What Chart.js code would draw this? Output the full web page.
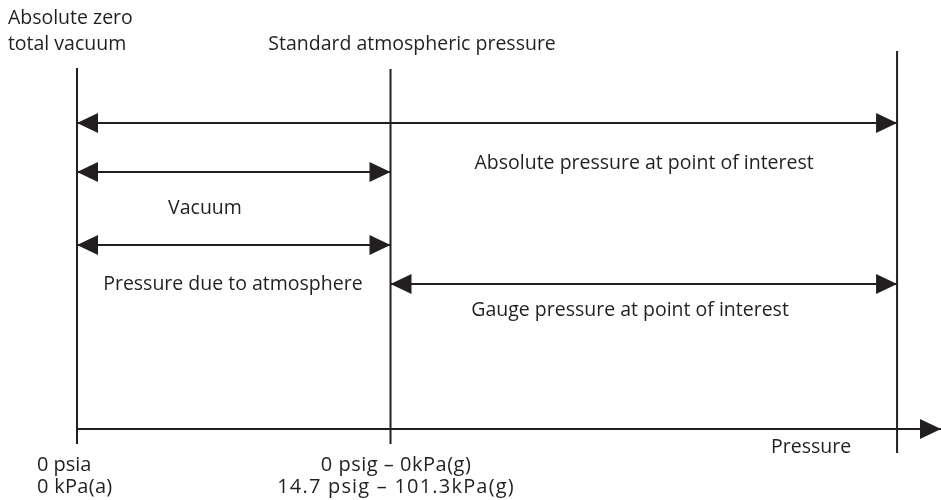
<!DOCTYPE html>
<html>
<head>
<meta charset="utf-8">
<script src="https://cdn.jsdelivr.net/npm/chart.js@4"></script>
<style>
  html, body { margin: 0; padding: 0; background: #ffffff; }
  #wrap { width: 941px; height: 500px; position: relative; }
</style>
</head>
<body>
<div id="wrap"><canvas id="c" width="941" height="500"></canvas></div>
<script>
// ---- data (pressure in psia) ----
const markerNames = ['Absolute zero', 'Standard atmospheric pressure', 'Point of interest'];
const markerPsia = [0, 14.7, 38.45];

const spanLabels = ['Absolute pressure at point of interest', 'Vacuum', 'Pressure due to atmosphere', 'Gauge pressure at point of interest'];
const spanFrom = [0, 0, 0, 14.7];
const spanTo = [38.45, 14.7, 14.7, 38.45];

const axisLabel = 'Pressure';
const axisRange = [-3.61, 40.51];

const tickTexts = [
  ['0 psia', '0 kPa(a)'],
  ['0 psig – 0kPa(g)', '14.7 psig – 101.3kPa(g)']
];
const topTexts = [['Absolute zero', 'total vacuum'], ['Standard atmospheric pressure']];

// ---- layout (diagram rows, 0 = top) ----
const markerTop = [68, 69, 51];
const markerBottom = [444, 444, 453];
const spanRow = [123, 172, 245, 284];
const spanTextPos = [[26.59, 163], [6.0, 208], [7.31, 284], [25.93, 310]];
const axisRow = 429;
const axisTextPos = [34.42, 447];
const tickTextPos = [[-1.88, 465, 'left'], [14.96, 465, 'center']];
const tickSpacing = [[0, 0.3], [0.5, 1.2]];
const tickLineGap = 22;
const topTextPos = [[-3.24, 18, 'left', 26], [15.71, 44, 'center', 0]];

const INK = '#231f20';
const FONT = '19.5px "Open Sans", sans-serif';
const TICK_FONT = '20px "Open Sans", sans-serif';

const datasets = [];
markerPsia.forEach((p, i) => {
  datasets.push({ label: markerNames[i], data: [{x: p, y: markerTop[i]}, {x: p, y: markerBottom[i]}] });
});
spanLabels.forEach((l, i) => {
  datasets.push({ label: l, data: [{x: spanFrom[i], y: spanRow[i]}, {x: spanTo[i], y: spanRow[i]}], arrows: [-1, 1] });
});
datasets.push({ label: axisLabel, data: [{x: 0, y: axisRow}, {x: axisRange[1], y: axisRow}], arrows: [0, 1] });
datasets.forEach(d => Object.assign(d, { showLine: true, borderColor: INK, borderWidth: 2, pointRadius: 0, clip: false, fill: false }));

function arrowHead(ctx, x, y, dir) {
  ctx.beginPath();
  ctx.moveTo(x, y);
  ctx.lineTo(x - dir * 21, y - 10);
  ctx.lineTo(x - dir * 21, y + 10);
  ctx.closePath();
  ctx.fill();
}

const deco = {
  id: 'deco',
  afterDatasetsDraw(chart) {
    const ctx = chart.ctx, xs = chart.scales.x, ys = chart.scales.y;
    ctx.save();
    ctx.fillStyle = INK;
    chart.data.datasets.forEach(d => {
      if (!d.arrows) return;
      const a = d.data[0], b = d.data[1];
      if (d.arrows[0]) arrowHead(ctx, xs.getPixelForValue(a.x), ys.getPixelForValue(a.y), -1);
      if (d.arrows[1]) arrowHead(ctx, xs.getPixelForValue(b.x), ys.getPixelForValue(b.y), 1);
    });
    ctx.font = FONT;
    ctx.textBaseline = 'middle';
    ctx.textAlign = 'center';
    spanLabels.forEach((l, i) => {
      ctx.fillText(l, xs.getPixelForValue(spanTextPos[i][0]), ys.getPixelForValue(spanTextPos[i][1]));
    });
    ctx.fillText(axisLabel, xs.getPixelForValue(axisTextPos[0]), ys.getPixelForValue(axisTextPos[1]));
    topTexts.forEach((lines, i) => {
      const [px, py, al, gap] = topTextPos[i];
      ctx.textAlign = al;
      lines.forEach((t, j) => ctx.fillText(t, xs.getPixelForValue(px), ys.getPixelForValue(py + j * gap)));
    });
    ctx.font = TICK_FONT;
    tickTexts.forEach((lines, i) => {
      const [px, py, al] = tickTextPos[i];
      ctx.textAlign = al;
      lines.forEach((t, j) => {
        ctx.letterSpacing = tickSpacing[i][j] + 'px';
        ctx.fillText(t, xs.getPixelForValue(px), ys.getPixelForValue(py + j * tickLineGap));
      });
    });
    ctx.letterSpacing = '0px';
    ctx.restore();
  }
};

new Chart(document.getElementById('c'), {
  type: 'scatter',
  data: { datasets },
  options: {
    responsive: false,
    animation: false,
    layout: { padding: 0 },
    plugins: { legend: { display: false }, tooltip: { enabled: false }, title: { display: false } },
    scales: {
      x: { type: 'linear', min: axisRange[0], max: axisRange[1], display: false },
      y: { type: 'linear', min: 0, max: 500, reverse: true, display: false }
    }
  },
  plugins: [deco]
});
</script>
</body>
</html>
